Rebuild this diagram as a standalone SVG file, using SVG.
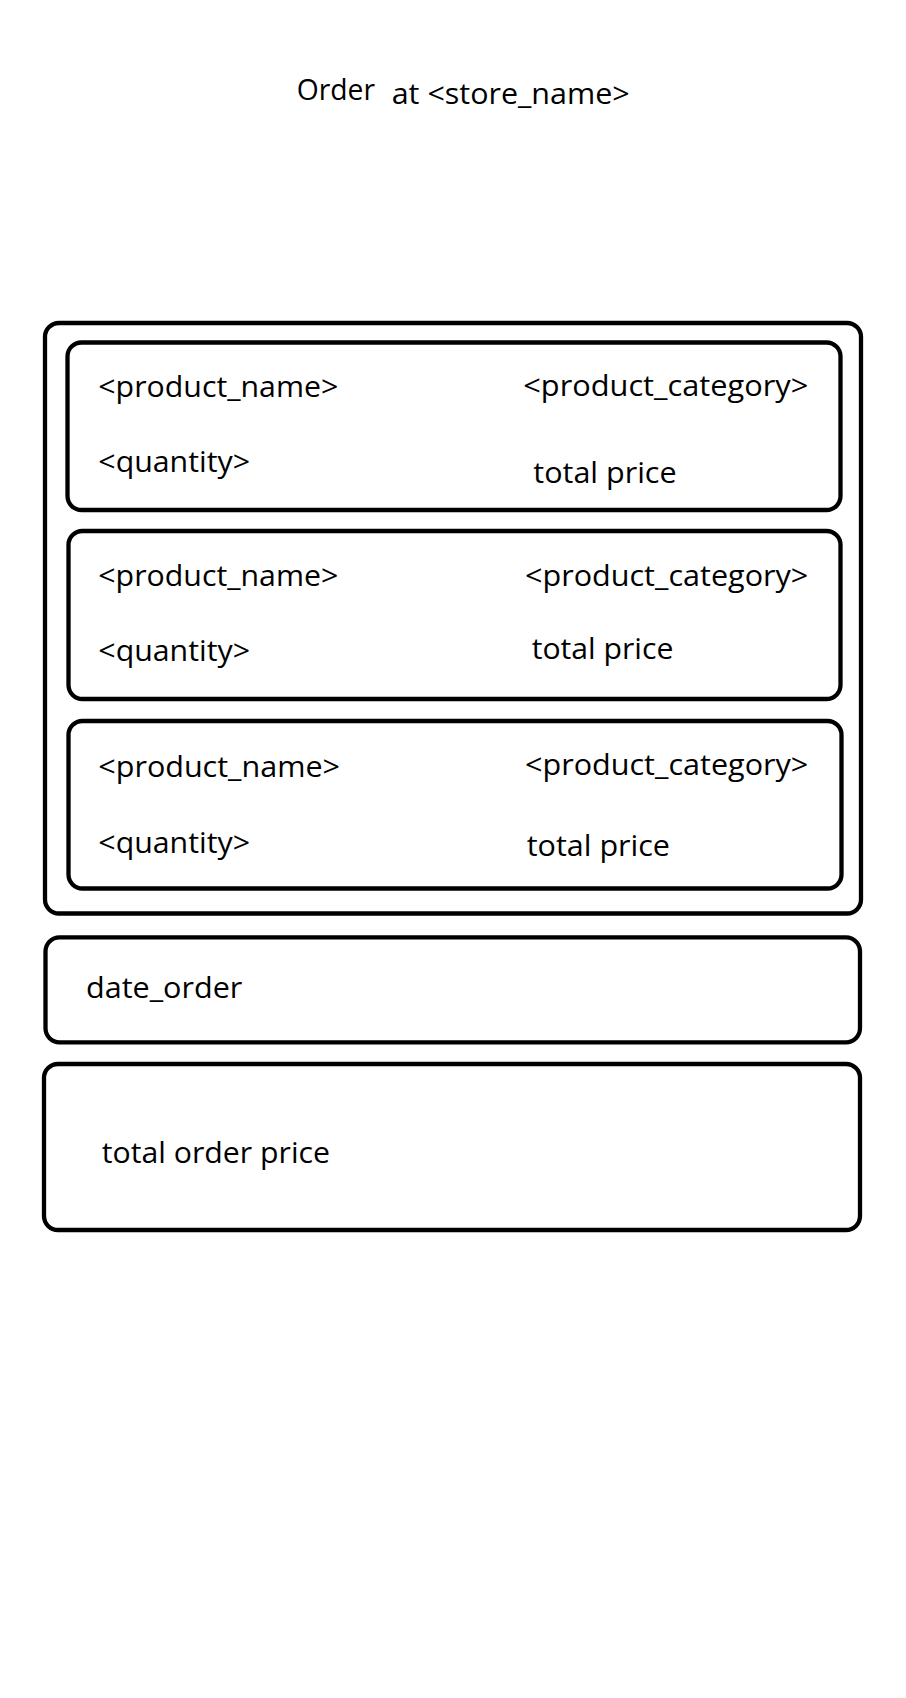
<svg xmlns="http://www.w3.org/2000/svg" width="906" height="1698" viewBox="0 0 906 1698">
<style>
.box{fill:none;stroke:#000;stroke-width:4.3}
.t{font-family:"Open Sans","Liberation Sans",sans-serif;font-size:30px;fill:#000}
</style>
<rect x="0" y="0" width="906" height="1698" fill="#fff"/>
<g id="title">
<text class="t" x="296.7" y="100" font-size="28" textLength="78.3" lengthAdjust="spacingAndGlyphs">Order</text>
<text class="t" x="391.7" y="104" textLength="238" lengthAdjust="spacingAndGlyphs">at &lt;store_name&gt;</text>
</g>
<g id="order-items">
<rect class="box" x="45" y="323" width="816" height="590.5" rx="14"/>
</g>
<g id="item1">
<rect class="box" x="67.5" y="342.5" width="773" height="167.5" rx="14"/>
<text class="t" x="98.3" y="397.3" textLength="240" lengthAdjust="spacingAndGlyphs">&lt;product_name&gt;</text>
<text class="t" x="98.3" y="471.5" textLength="151.7" lengthAdjust="spacingAndGlyphs">&lt;quantity&gt;</text>
<text class="t" x="523.3" y="395.5" textLength="285" lengthAdjust="spacingAndGlyphs">&lt;product_category&gt;</text>
<text class="t" x="533.3" y="482.5" textLength="143.3" lengthAdjust="spacingAndGlyphs">total price</text>
</g>
<g id="item2">
<rect class="box" x="68.5" y="531" width="772" height="168" rx="14"/>
<text class="t" x="98.3" y="586" textLength="240" lengthAdjust="spacingAndGlyphs">&lt;product_name&gt;</text>
<text class="t" x="98.3" y="661" textLength="151.7" lengthAdjust="spacingAndGlyphs">&lt;quantity&gt;</text>
<text class="t" x="525" y="585.5" textLength="283.3" lengthAdjust="spacingAndGlyphs">&lt;product_category&gt;</text>
<text class="t" x="531.7" y="658.7" textLength="141.7" lengthAdjust="spacingAndGlyphs">total price</text>
</g>
<g id="item3">
<rect class="box" x="68.5" y="721" width="773" height="167.5" rx="14"/>
<text class="t" x="98.3" y="776.7" textLength="241.7" lengthAdjust="spacingAndGlyphs">&lt;product_name&gt;</text>
<text class="t" x="98.3" y="852.5" textLength="151.7" lengthAdjust="spacingAndGlyphs">&lt;quantity&gt;</text>
<text class="t" x="525" y="775" textLength="283.3" lengthAdjust="spacingAndGlyphs">&lt;product_category&gt;</text>
<text class="t" x="526.7" y="855.5" textLength="143.3" lengthAdjust="spacingAndGlyphs">total price</text>
</g>
<g id="date">
<rect class="box" x="45.5" y="937.3" width="814.5" height="105" rx="14"/>
<text class="t" x="86" y="997.7" textLength="156.3" lengthAdjust="spacingAndGlyphs">date_order</text>
</g>
<g id="total">
<rect class="box" x="44" y="1064" width="816" height="166" rx="14"/>
<text class="t" x="101.7" y="1163.3" textLength="228.3" lengthAdjust="spacingAndGlyphs">total order price</text>
</g>
<g id="connectors"></g>
</svg>
